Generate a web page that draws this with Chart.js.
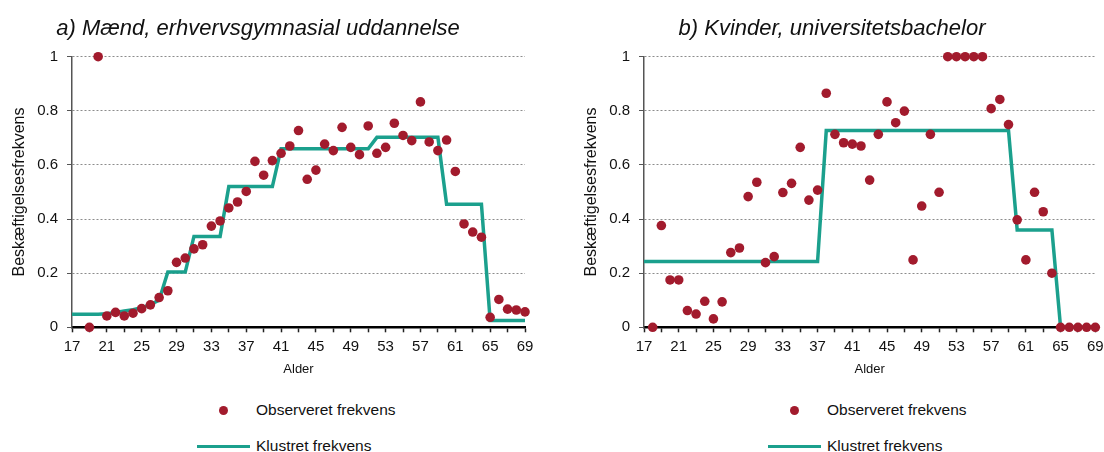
<!DOCTYPE html>
<html>
<head>
<meta charset="utf-8">
<script src="https://cdn.jsdelivr.net/npm/chart.js@4/dist/chart.umd.min.js"></script>
<style>
  body { margin: 0; background: #fff; font-family: 'Liberation Sans', Arial, sans-serif; color: #111; }
  #wrap { position: relative; width: 1104px; height: 452px; overflow: hidden; }
  canvas { position: absolute; top: 0; }
  .title { position: absolute; top: 15px; font-size: 22px; font-style: italic; white-space: nowrap; transform: translateX(-50%); }
  .lg { position: absolute; font-size: 15.5px; white-space: nowrap; line-height: 18px; }
  .dot { position: absolute; width: 9px; height: 9px; border-radius: 50%; background: #a21b2d; }
  .ln { position: absolute; height: 3px; background: #1ba08d; }
</style>
</head>
<body>
<div id="wrap">
  <canvas id="chartA" width="552" height="400" style="left:0"></canvas>
  <canvas id="chartB" width="540" height="400" style="left:572px"></canvas>

  <div class="title" style="left:258px">a) Mænd, erhvervsgymnasial uddannelse</div>
  <div class="title" style="left:832px">b) Kvinder, universitetsbachelor</div>

  <div class="dot" style="left:219px;top:406px"></div>
  <div class="lg" style="left:256px;top:401px">Observeret frekvens</div>
  <div class="ln" style="left:197px;top:445px;width:53px"></div>
  <div class="lg" style="left:256px;top:437px">Klustret frekvens</div>

  <div class="dot" style="left:790px;top:406px"></div>
  <div class="lg" style="left:827px;top:401px">Observeret frekvens</div>
  <div class="ln" style="left:768px;top:445px;width:53px"></div>
  <div class="lg" style="left:827px;top:437px">Klustret frekvens</div>
</div>

<script>
const ages = [17,18,19,20,21,22,23,24,25,26,27,28,29,30,31,32,33,34,35,36,37,38,39,40,41,42,43,
              44,45,46,47,48,49,50,51,52,53,54,55,56,57,58,59,60,61,62,63,64,65,66,67,68,69];
const xTicks = [17,19,21,23,25,27,29,31,33,35,37,39,41,43,45,47,49,51,53,55,57,59,61,63,65,67,69];
const xLabels = [17,21,25,29,33,37,41,45,49,53,57,61,65,69];

// a) Mænd, erhvervsgymnasial uddannelse
const observedA = [null,null,0,1.0,0.042,0.055,0.042,0.052,0.069,0.083,0.11,0.135,0.24,0.256,0.29,0.305,0.374,0.393,
                   0.441,0.463,0.502,0.613,0.562,0.616,0.643,0.67,0.727,0.547,0.581,0.677,0.653,0.739,0.665,0.638,
                   0.744,0.643,0.665,0.754,0.709,0.69,0.833,0.685,0.653,0.692,0.576,0.382,0.352,0.333,0.037,0.103,
                   0.067,0.064,0.057];
const clusteredA = [0.048,0.048,0.048,0.048,0.05,0.055,0.06,0.065,0.072,0.085,0.1,0.204,0.204,0.204,
                    0.336,0.336,0.336,0.336,0.52,0.52,0.52,0.52,0.52,0.52,
                    0.66,0.66,0.66,0.66,0.66,0.66,0.66,0.66,0.66,0.66,0.66,
                    0.702,0.702,0.702,0.702,0.702,0.702,0.702,0.702,
                    0.455,0.455,0.455,0.455,0.455,0.025,0.025,0.025,0.025,0.025];

// b) Kvinder, universitetsbachelor
const observedB = [null,0,0.376,0.175,0.175,0.062,0.049,0.096,0.031,0.094,0.276,0.293,0.483,0.536,0.239,0.261,
                   0.498,0.532,0.665,0.47,0.507,0.865,0.713,0.682,0.677,0.67,0.544,0.713,0.833,0.756,0.799,
                   0.249,0.448,0.713,0.499,1,1,1,1,1,0.808,0.842,0.749,0.397,0.249,0.499,0.427,0.2,
                   0,0,0,0,0];
const clusteredB = [0.243,0.243,0.243,0.243,0.243,0.243,0.243,0.243,0.243,0.243,0.243,
                    0.243,0.243,0.243,0.243,0.243,0.243,0.243,0.243,0.243,0.243,
                    0.727,0.727,0.727,0.727,0.727,0.727,0.727,0.727,0.727,0.727,0.727,
                    0.727,0.727,0.727,0.727,0.727,0.727,0.727,0.727,0.727,0.727,0.727,
                    0.36,0.36,0.36,0.36,0.36,0,0,0,0,0];

const FONT = "'Liberation Sans', Arial, sans-serif";
const RED = '#a21b2d';
const TEAL = '#1ba08d';

function toPoints(values) {
    return ages.map((a, i) => ({ x: a, y: values[i] })).filter(p => p.y !== null);
}

function makeChart(id, observed, clustered, rightPad) {
    const ctx = document.getElementById(id).getContext('2d');
    return new Chart(ctx, {
        type: 'line',
        data: {
            datasets: [{
                label: 'Observeret frekvens',
                data: toPoints(observed),
                showLine: false,
                pointRadius: 4.8,
                pointBorderWidth: 0,
                pointBackgroundColor: RED,
                borderColor: RED,
                clip: false
            }, {
                label: 'Klustret frekvens',
                data: toPoints(clustered),
                borderColor: TEAL,
                borderWidth: 3.5,
                pointRadius: 0,
                tension: 0,
                clip: false
            }]
        },
        options: {
            responsive: false,
            animation: false,
            devicePixelRatio: 1,
            layout: { padding: { left: 0, right: rightPad, top: 56.7, bottom: 17.7 } },
            plugins: { legend: { display: false }, tooltip: { enabled: false } },
            scales: {
                x: {
                    type: 'linear',
                    min: 17,
                    max: 69,
                    afterBuildTicks: scale => { scale.ticks = xTicks.map(v => ({ value: v })); },
                    afterFit: scale => { scale.height = 55; },
                    ticks: {
                        autoSkip: false,
                        maxRotation: 0,
                        padding: 6,
                        color: '#111',
                        font: { family: FONT, size: 15 },
                        callback: v => xLabels.includes(v) ? String(v) : ''
                    },
                    grid: { drawOnChartArea: false, drawTicks: true, tickLength: 5, tickColor: '#222', tickWidth: 1.5 },
                    border: { color: '#000', width: 2.5 },
                    title: { display: true, text: 'Alder', color: '#111', font: { family: FONT, size: 13 }, padding: { top: 0, bottom: 5 } }
                },
                y: {
                    min: 0,
                    max: 1,
                    afterFit: scale => { scale.width = 72; },
                    ticks: {
                        stepSize: 0.2,
                        padding: 9,
                        color: '#111',
                        font: { family: FONT, size: 15 },
                        callback: v => String(+v.toFixed(1))
                    },
                    grid: {
                        color: c => c.tick && Math.abs(c.tick.value) < 1e-6 ? 'rgba(0,0,0,0)' : '#8c8c8c',
                        lineWidth: 1,
                        tickLength: 5,
                        tickColor: '#555'
                    },
                    border: { color: '#555', width: 1.5, dash: [2, 2] },
                    title: { display: true, text: 'Beskæftigelsesfrekvens', color: '#111', font: { family: FONT, size: 16 }, padding: { top: 10, bottom: 0 } }
                }
            }
        }
    });
}

makeChart('chartA', observedA, clusteredA, 27);
makeChart('chartB', observedB, clusteredB, 16.7);
</script>
</body>
</html>
